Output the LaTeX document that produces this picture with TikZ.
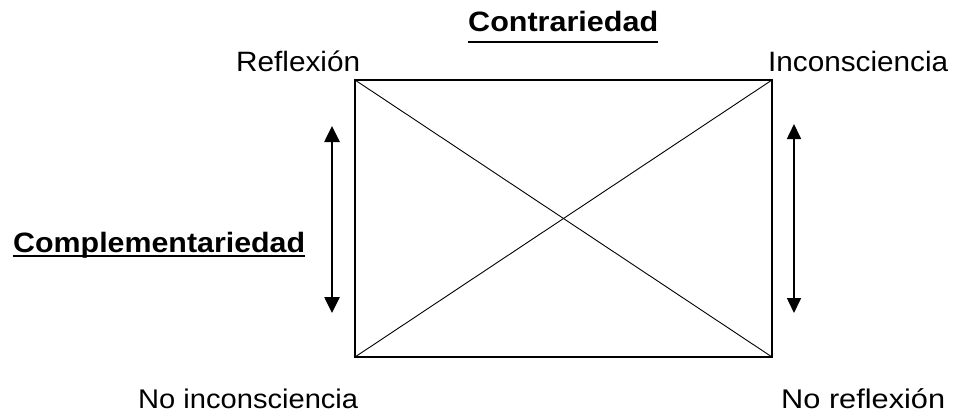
\documentclass[tikz,border=0pt]{standalone}
\usepackage{fontspec}
\setmainfont{Liberation Sans}
\usetikzlibrary{arrows.meta}
\newlength\fitlen
\newcommand\fittext[3]{{\fontsize{#2}{#2}\selectfont\settowidth\fitlen{#3}%
  \pgfmathsetmacro\fitfac{#1/\fitlen}\scalebox{\fitfac}[1]{#3}}}
\begin{document}
\begin{tikzpicture}[x=1pt,y=-1pt,
  lbl/.style={inner sep=0pt,anchor=base west},
  frame/.style={line width=1.5pt},
  diag/.style={line width=0.9pt},
  thickarrow/.style={line width=2.6pt,{Triangle[width=15pt,length=16pt]}-{Triangle[width=15pt,length=16pt]}},
  thinarrow/.style={line width=1.6pt,{Triangle[width=14pt,length=15pt]}-{Triangle[width=14pt,length=15pt]}},
  uline/.style={line width=2pt}]
\useasboundingbox (0,0) rectangle (953,412);
\fill[white] (0,0) rectangle (953,412);
% rectangle corners
\coordinate (TL) at (355,80);
\coordinate (TR) at (772,80);
\coordinate (BL) at (355,357);
\coordinate (BR) at (772,357);
\draw[frame] (TL) rectangle (BR);
\draw[diag] (TL) -- (BR);
\draw[diag] (TR) -- (BL);
% arrows
\coordinate (LA1) at (332,126);
\coordinate (LA2) at (332,313);
\coordinate (RA1) at (794,124);
\coordinate (RA2) at (794,313);
\draw[thickarrow] (LA1) -- (LA2);
\draw[thinarrow] (RA1) -- (RA2);
% labels
\node[lbl] (refl) at (236,72) {\fittext{124}{28}{Reflexión}};
\node[lbl] (inco) at (768,72) {\fittext{180}{28}{Inconsciencia}};
\node[lbl] (contr) at (468,32) {\fittext{190}{28}{\bfseries Contrariedad}};
\node[lbl] (compl) at (13,252) {\fittext{292}{28}{\bfseries Complementariedad}};
\node[lbl] (noinc) at (138,408) {\fittext{220}{27}{No inconsciencia}};
\node[lbl] (norefl) at (781,408) {\fittext{164}{27}{No reflexión}};
% underlines
\draw[uline] ([yshift=-10pt]contr.base west) -- ([yshift=-10pt]contr.base east);
\draw[uline] ([yshift=-3.5pt]compl.base west) -- ([yshift=-3.5pt]compl.base east);
\end{tikzpicture}
\end{document}
